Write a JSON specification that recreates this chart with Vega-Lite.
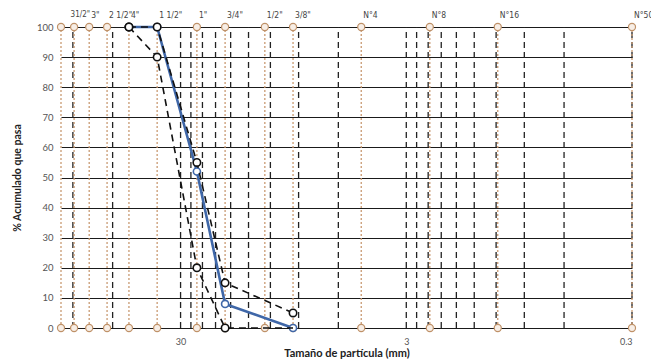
{
  "$schema": "https://vega.github.io/schema/vega-lite/v6.json",
  "width": 571,
  "height": 301,
  "autosize": {"type": "none"},
  "padding": {"left": 61, "top": 27, "right": 19, "bottom": 35},
  "background": "white",
  "config": {
    "view": {"stroke": null},
    "font": "Lato",
    "axisY": {
      "grid": true,
      "gridColor": "#1a1a1a",
      "gridWidth": 1.2,
      "domain": false,
      "ticks": false,
      "tickCount": 11,
      "labelColor": "#555555",
      "labelFontSize": 9.5,
      "labelPadding": 8,
      "titleFontSize": 10.5,
      "titleFontWeight": "bold",
      "titleColor": "#222222",
      "titlePadding": 14
    },
    "axisX": {
      "grid": false,
      "domain": false,
      "ticks": false,
      "labelColor": "#555555",
      "labelFontSize": 9,
      "labelPadding": 9,
      "titleFontSize": 11,
      "titleFontWeight": "bold",
      "titleColor": "#222222",
      "titlePadding": 1
    }
  },
  "datasets": {
    "grid": [
      {"size": 0.3}, {"size": 0.6}, {"size": 0.9}, {"size": 1.2}, {"size": 1.5}, {"size": 1.8}, {"size": 2.1}, {"size": 2.4}, {"size": 2.7}, {"size": 3},
      {"size": 6}, {"size": 9}, {"size": 12}, {"size": 15}, {"size": 18}, {"size": 21}, {"size": 24}, {"size": 27}, {"size": 30},
      {"size": 60}, {"size": 90}
    ],
    "sieves": [
      {"size": 101.6, "label": ""},
      {"size": 88.9, "label": "31/2\""},
      {"size": 76.2, "label": "3\""},
      {"size": 63.5, "label": "2 1/2\""},
      {"size": 50.8, "label": "4\""},
      {"size": 38.1, "label": "1 1/2\""},
      {"size": 25.4, "label": "1\""},
      {"size": 19.05, "label": "3/4\""},
      {"size": 12.7, "label": "1/2\""},
      {"size": 9.525, "label": "3/8\""},
      {"size": 4.75, "label": "N°4"},
      {"size": 2.36, "label": "N°8"},
      {"size": 1.18, "label": "N°16"},
      {"size": 0.3, "label": "N°50"}
    ],
    "limits": [
      {"limit": "inferior", "size": 50.8, "pct": 100},
      {"limit": "inferior", "size": 38.1, "pct": 90},
      {"limit": "inferior", "size": 25.4, "pct": 20},
      {"limit": "inferior", "size": 19.05, "pct": 0},
      {"limit": "inferior", "size": 9.525, "pct": 0},
      {"limit": "superior", "size": 50.8, "pct": 100},
      {"limit": "superior", "size": 38.1, "pct": 100},
      {"limit": "superior", "size": 25.4, "pct": 55},
      {"limit": "superior", "size": 19.05, "pct": 15},
      {"limit": "superior", "size": 9.525, "pct": 5}
    ],
    "muestra": [
      {"size": 50.8, "pct": 100},
      {"size": 38.1, "pct": 100},
      {"size": 25.4, "pct": 52},
      {"size": 19.05, "pct": 8},
      {"size": 9.525, "pct": 0}
    ]
  },
  "encoding": {
    "x": {
      "field": "size",
      "type": "quantitative",
      "scale": {"type": "log", "domain": [0.3, 101.6], "reverse": true, "nice": false, "zero": false},
      "axis": {"values": [30, 3, 0.3], "format": "~g"},
      "title": "Tamaño de partícula (mm)"
    }
  },
  "layer": [
    {
      "data": {"name": "grid"},
      "mark": {"type": "rule", "color": "#222222", "strokeWidth": 1.3, "strokeDash": [6, 4]},
      "encoding": {
        "y": {"datum": 0, "type": "quantitative", "scale": {"domain": [0, 100], "nice": false}, "axis": {"values": [0, 10, 20, 30, 40, 50, 60, 70, 80, 90, 100]}, "title": "% Acumulado que pasa"},
        "y2": {"datum": 100}
      }
    },
    {
      "data": {"name": "sieves"},
      "mark": {"type": "rule", "color": "#c99a72", "strokeWidth": 1.3, "strokeDash": [2, 2]},
      "encoding": {
        "y": {"datum": 0, "type": "quantitative", "axis": {"values": [0, 10, 20, 30, 40, 50, 60, 70, 80, 90, 100]}},
        "y2": {"datum": 100}
      }
    },
    {
      "data": {"name": "sieves"},
      "mark": {"type": "point", "shape": "circle", "filled": false, "fill": "#f7eee6", "stroke": "#bf9168", "strokeWidth": 1.2, "size": 50, "opacity": 1, "fillOpacity": 1},
      "encoding": {"y": {"datum": 100, "type": "quantitative", "axis": {"values": [0, 10, 20, 30, 40, 50, 60, 70, 80, 90, 100]}}}
    },
    {
      "data": {"name": "sieves"},
      "mark": {"type": "point", "shape": "circle", "filled": false, "fill": "#f7eee6", "stroke": "#bf9168", "strokeWidth": 1.2, "size": 50, "opacity": 1, "fillOpacity": 1},
      "encoding": {"y": {"datum": 0, "type": "quantitative", "axis": {"values": [0, 10, 20, 30, 40, 50, 60, 70, 80, 90, 100]}}}
    },
    {
      "data": {"name": "sieves"},
      "transform": [{"filter": "datum.size != 88.9"}],
      "mark": {"type": "text", "align": "left", "baseline": "middle", "dx": 2, "dy": -12, "fontSize": 8.5, "font": "Liberation Sans Narrow, DejaVu Sans Condensed, Lato", "color": "#444444"},
      "encoding": {
        "y": {"datum": 100, "type": "quantitative", "axis": {"values": [0, 10, 20, 30, 40, 50, 60, 70, 80, 90, 100]}},
        "text": {"field": "label"}
      }
    },
    {
      "data": {"name": "sieves"},
      "transform": [{"filter": "datum.size == 88.9"}],
      "mark": {"type": "text", "align": "right", "baseline": "middle", "dx": 16, "dy": -12, "fontSize": 8, "font": "Liberation Sans Narrow, DejaVu Sans Condensed, Lato", "color": "#444444"},
      "encoding": {
        "y": {"datum": 100, "type": "quantitative", "axis": {"values": [0, 10, 20, 30, 40, 50, 60, 70, 80, 90, 100]}},
        "text": {"field": "label"}
      }
    },
    {
      "data": {"name": "muestra"},
      "mark": {"type": "line", "color": "#3f67a8", "strokeWidth": 2.6},
      "encoding": {"y": {"field": "pct", "type": "quantitative", "axis": {"values": [0, 10, 20, 30, 40, 50, 60, 70, 80, 90, 100]}, "title": "% Acumulado que pasa"}}
    },
    {
      "data": {"name": "muestra"},
      "mark": {"type": "point", "shape": "circle", "filled": false, "fill": "white", "stroke": "#3f67a8", "strokeWidth": 1.6, "size": 50, "opacity": 1},
      "encoding": {"y": {"field": "pct", "type": "quantitative", "axis": {"values": [0, 10, 20, 30, 40, 50, 60, 70, 80, 90, 100]}, "title": "% Acumulado que pasa"}}
    },
    {
      "data": {"name": "limits"},
      "mark": {"type": "line", "color": "#111111", "strokeWidth": 1.6, "strokeDash": [7, 5]},
      "encoding": {
        "y": {"field": "pct", "type": "quantitative", "axis": {"values": [0, 10, 20, 30, 40, 50, 60, 70, 80, 90, 100]}, "title": "% Acumulado que pasa"},
        "detail": {"field": "limit"}
      }
    },
    {
      "data": {"name": "limits"},
      "transform": [{"filter": "datum.size > 10"}],
      "mark": {"type": "point", "shape": "circle", "filled": false, "fill": "white", "stroke": "#111111", "strokeWidth": 1.6, "size": 55, "opacity": 1},
      "encoding": {"y": {"field": "pct", "type": "quantitative", "axis": {"values": [0, 10, 20, 30, 40, 50, 60, 70, 80, 90, 100]}, "title": "% Acumulado que pasa"}}
    },
    {
      "data": {"name": "limits"},
      "transform": [{"filter": "datum.size < 10 && datum.pct > 0"}],
      "mark": {"type": "point", "shape": "circle", "filled": false, "fill": "white", "stroke": "#111111", "strokeWidth": 1.6, "size": 55, "opacity": 1},
      "encoding": {"y": {"field": "pct", "type": "quantitative", "axis": {"values": [0, 10, 20, 30, 40, 50, 60, 70, 80, 90, 100]}, "title": "% Acumulado que pasa"}}
    }
  ]
}
